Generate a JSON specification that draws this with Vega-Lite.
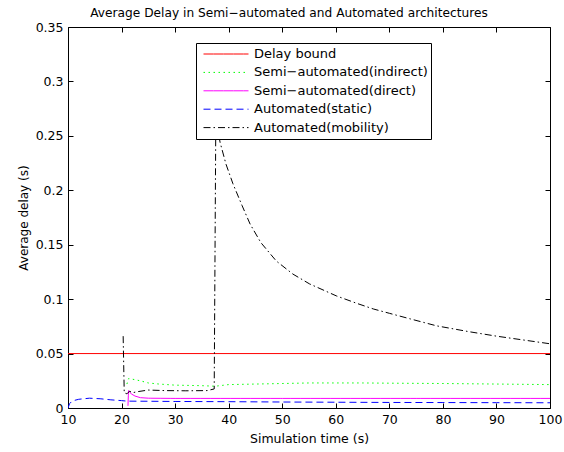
{
  "$schema": "https://vega.github.io/schema/vega-lite/v6.json",
  "autosize": "none",
  "width": 482,
  "height": 381,
  "padding": {"left": 68, "top": 27, "right": 14, "bottom": 44},
  "background": "white",
  "config": {
    "font": "DejaVu Sans",
    "view": {"stroke": "black", "strokeWidth": 1}
  },
  "title": {
    "text": "Average Delay in Semi−automated and Automated architectures",
    "fontSize": 12.2,
    "fontWeight": "normal",
    "font": "DejaVu Sans",
    "color": "black",
    "frame": "group",
    "offset": 2,
    "dx": -20,
    "anchor": "middle"
  },
  "data": {
    "values": [
      {"series": "Delay bound", "t": 10, "d": 0.05},
      {"series": "Delay bound", "t": 100, "d": 0.05},

      {"series": "Semi−automated(indirect)", "t": 21.0, "d": 0.022},
      {"series": "Semi−automated(indirect)", "t": 21.3, "d": 0.027},
      {"series": "Semi−automated(indirect)", "t": 22.0, "d": 0.0265},
      {"series": "Semi−automated(indirect)", "t": 23.5, "d": 0.025},
      {"series": "Semi−automated(indirect)", "t": 25, "d": 0.023},
      {"series": "Semi−automated(indirect)", "t": 27, "d": 0.022},
      {"series": "Semi−automated(indirect)", "t": 30, "d": 0.021},
      {"series": "Semi−automated(indirect)", "t": 35, "d": 0.0205},
      {"series": "Semi−automated(indirect)", "t": 37.5, "d": 0.020},
      {"series": "Semi−automated(indirect)", "t": 40, "d": 0.0215},
      {"series": "Semi−automated(indirect)", "t": 45, "d": 0.022},
      {"series": "Semi−automated(indirect)", "t": 50, "d": 0.0225},
      {"series": "Semi−automated(indirect)", "t": 55, "d": 0.023},
      {"series": "Semi−automated(indirect)", "t": 60, "d": 0.023},
      {"series": "Semi−automated(indirect)", "t": 65, "d": 0.023},
      {"series": "Semi−automated(indirect)", "t": 70, "d": 0.0228},
      {"series": "Semi−automated(indirect)", "t": 80, "d": 0.0225},
      {"series": "Semi−automated(indirect)", "t": 90, "d": 0.022},
      {"series": "Semi−automated(indirect)", "t": 100, "d": 0.0215},

      {"series": "Semi−automated(direct)", "t": 21.2, "d": 0.002},
      {"series": "Semi−automated(direct)", "t": 21.3, "d": 0.016},
      {"series": "Semi−automated(direct)", "t": 21.8, "d": 0.013},
      {"series": "Semi−automated(direct)", "t": 22.5, "d": 0.011},
      {"series": "Semi−automated(direct)", "t": 23.5, "d": 0.0095},
      {"series": "Semi−automated(direct)", "t": 25, "d": 0.009},
      {"series": "Semi−automated(direct)", "t": 30, "d": 0.0088},
      {"series": "Semi−automated(direct)", "t": 50, "d": 0.0088},
      {"series": "Semi−automated(direct)", "t": 75, "d": 0.0088},
      {"series": "Semi−automated(direct)", "t": 100, "d": 0.0088},

      {"series": "Automated(static)", "t": 10, "d": 0.0},
      {"series": "Automated(static)", "t": 10.3, "d": 0.004},
      {"series": "Automated(static)", "t": 10.8, "d": 0.0065},
      {"series": "Automated(static)", "t": 12, "d": 0.008},
      {"series": "Automated(static)", "t": 14, "d": 0.009},
      {"series": "Automated(static)", "t": 16, "d": 0.0085},
      {"series": "Automated(static)", "t": 18, "d": 0.0075},
      {"series": "Automated(static)", "t": 20, "d": 0.0068},
      {"series": "Automated(static)", "t": 21, "d": 0.0063},
      {"series": "Automated(static)", "t": 25, "d": 0.0062},
      {"series": "Automated(static)", "t": 30, "d": 0.006},
      {"series": "Automated(static)", "t": 40, "d": 0.0058},
      {"series": "Automated(static)", "t": 50, "d": 0.0055},
      {"series": "Automated(static)", "t": 60, "d": 0.0053},
      {"series": "Automated(static)", "t": 70, "d": 0.0051},
      {"series": "Automated(static)", "t": 80, "d": 0.005},
      {"series": "Automated(static)", "t": 90, "d": 0.0049},
      {"series": "Automated(static)", "t": 100, "d": 0.0048},

      {"series": "Automated(mobility)", "t": 20.3, "d": 0.066},
      {"series": "Automated(mobility)", "t": 20.5, "d": 0.014},
      {"series": "Automated(mobility)", "t": 21, "d": 0.013},
      {"series": "Automated(mobility)", "t": 21.5, "d": 0.0155},
      {"series": "Automated(mobility)", "t": 22, "d": 0.014},
      {"series": "Automated(mobility)", "t": 23, "d": 0.015},
      {"series": "Automated(mobility)", "t": 25, "d": 0.0165},
      {"series": "Automated(mobility)", "t": 28, "d": 0.016},
      {"series": "Automated(mobility)", "t": 32, "d": 0.0158},
      {"series": "Automated(mobility)", "t": 36, "d": 0.016},
      {"series": "Automated(mobility)", "t": 37.3, "d": 0.0175},
      {"series": "Automated(mobility)", "t": 37.6, "d": 0.265},
      {"series": "Automated(mobility)", "t": 38.4, "d": 0.244},
      {"series": "Automated(mobility)", "t": 39.5, "d": 0.224},
      {"series": "Automated(mobility)", "t": 40.8, "d": 0.206},
      {"series": "Automated(mobility)", "t": 42.5, "d": 0.186},
      {"series": "Automated(mobility)", "t": 44, "d": 0.169},
      {"series": "Automated(mobility)", "t": 46, "d": 0.152},
      {"series": "Automated(mobility)", "t": 48.9, "d": 0.135},
      {"series": "Automated(mobility)", "t": 52, "d": 0.123},
      {"series": "Automated(mobility)", "t": 55.1, "d": 0.114},
      {"series": "Automated(mobility)", "t": 60.1, "d": 0.103},
      {"series": "Automated(mobility)", "t": 64, "d": 0.096},
      {"series": "Automated(mobility)", "t": 67, "d": 0.091},
      {"series": "Automated(mobility)", "t": 70, "d": 0.087},
      {"series": "Automated(mobility)", "t": 73.8, "d": 0.082},
      {"series": "Automated(mobility)", "t": 78.8, "d": 0.0755},
      {"series": "Automated(mobility)", "t": 85, "d": 0.070},
      {"series": "Automated(mobility)", "t": 90, "d": 0.066},
      {"series": "Automated(mobility)", "t": 95, "d": 0.0625},
      {"series": "Automated(mobility)", "t": 100, "d": 0.059}
    ]
  },
  "resolve": {"axis": {"x": "independent", "y": "independent"}},
  "layer": [
    {
      "mark": {"type": "line", "strokeWidth": 1, "clip": true},
      "encoding": {
        "x": {
          "field": "t", "type": "quantitative",
          "scale": {"domain": [10, 100], "nice": false, "zero": false},
          "axis": {
            "orient": "bottom", "title": "Simulation time (s)",
            "values": [10, 20, 30, 40, 50, 60, 70, 80, 90, 100],
            "grid": false, "domain": false, "offset": -5,
            "tickSize": 5, "tickColor": "black", "tickWidth": 1,
            "labelPadding": 5, "labelFontSize": 12.5, "labelColor": "black", "labelFlush": false,
            "titleFontSize": 12.5, "titleFontWeight": "normal", "titleColor": "black", "titlePadding": 7
          }
        },
        "y": {
          "field": "d", "type": "quantitative",
          "scale": {"domain": [0, 0.35], "nice": false},
          "axis": {
            "orient": "left", "title": "Average delay (s)",
            "values": [0, 0.05, 0.1, 0.15, 0.2, 0.25, 0.3, 0.35],
            "format": "~g",
            "grid": false, "domain": false, "offset": -5,
            "tickSize": 5, "tickColor": "black", "tickWidth": 1,
            "labelPadding": 5, "labelFontSize": 12.5, "labelColor": "black", "labelFlush": false,
            "titleFontSize": 12, "titleFontWeight": "normal", "titleColor": "black", "titlePadding": 5
          }
        },
        "detail": {"field": "series"},
        "order": {"field": "t", "type": "quantitative"},
        "color": {
          "field": "series", "type": "nominal",
          "scale": {
            "domain": ["Delay bound", "Semi−automated(indirect)", "Semi−automated(direct)", "Automated(static)", "Automated(mobility)"],
            "range": ["#ff0000", "#00ff00", "#ff00ff", "#0000ff", "#000000"]
          },
          "legend": {
            "title": null,
            "orient": "none",
            "legendX": 128,
            "legendY": 16,
            "fillColor": "white",
            "strokeColor": "black",
            "padding": 3,
            "symbolType": "stroke",
            "symbolSize": 2025,
            "symbolOffset": 4,
            "symbolStrokeWidth": 1,
            "clipHeight": 16,
            "labelFontSize": 13,
            "labelColor": "black",
            "labelOffset": 5,
            "labelLimit": 400,
            "rowPadding": 2.4
          }
        },
        "strokeDash": {
          "field": "series", "type": "nominal",
          "scale": {
            "domain": ["Delay bound", "Semi−automated(indirect)", "Semi−automated(direct)", "Automated(static)", "Automated(mobility)"],
            "range": [[10, 0], [1.5, 3.5], [10, 0], [7, 4], [7, 3, 1.5, 3]]
          },
          "legend": null
        }
      }
    },
    {
      "mark": {"type": "point", "opacity": 0},
      "encoding": {
        "x": {
          "field": "t", "type": "quantitative",
          "axis": {
            "orient": "top", "title": null, "labels": false, "grid": false, "domain": false,
            "values": [10, 20, 30, 40, 50, 60, 70, 80, 90, 100], "offset": -5,
            "tickSize": 5, "tickColor": "black", "tickWidth": 1
          }
        },
        "y": {
          "field": "d", "type": "quantitative",
          "axis": {
            "orient": "right", "title": null, "labels": false, "grid": false, "domain": false,
            "values": [0, 0.05, 0.1, 0.15, 0.2, 0.25, 0.3, 0.35], "offset": -5,
            "tickSize": 5, "tickColor": "black", "tickWidth": 1
          }
        }
      }
    }
  ]
}
